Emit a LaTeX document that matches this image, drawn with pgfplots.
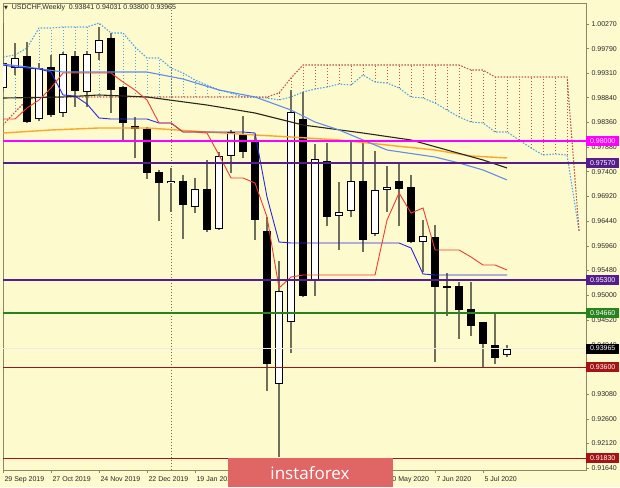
\documentclass[border=0pt]{standalone}
\usepackage{pgfplots}
\pgfplotsset{compat=1.18}
\usepackage{pgfplotstable}
\usepackage{fontspec}
\setmainfont{Liberation Sans}
\newfontfamily\dejavu{DejaVu Sans}
\newfontfamily\logofont{Open Sans}
\definecolor{bg}{RGB}{253,250,205}
\definecolor{frame}{RGB}{140,135,100}
\definecolor{wick}{RGB}{110,110,90}
\definecolor{tenkan}{RGB}{240,60,50}
\definecolor{kijun}{RGB}{40,40,230}
\definecolor{spanA}{RGB}{80,165,235}
\definecolor{spanB}{RGB}{190,85,75}
\definecolor{maBlue}{RGB}{100,140,235}
\definecolor{maBlack}{RGB}{40,40,30}
\definecolor{maOrange}{RGB}{255,165,40}
\definecolor{lvlMag}{RGB}{255,0,255}
\definecolor{lvlPur}{RGB}{85,30,140}
\definecolor{lvlGrn}{RGB}{40,130,30}
\definecolor{lvlRed}{RGB}{165,20,20}
\definecolor{curline}{RGB}{236,236,228}
\definecolor{logo}{RGB}{224,102,102}
\definecolor{txt}{RGB}{40,40,40}
\tikzset{lbl/.style={anchor=west, text=white, font=\fontsize{7}{8}\selectfont, inner xsep=2pt, inner ysep=0pt, minimum height=10pt, minimum width=33pt}}
\pgfplotsset{eb/.style={draw=none, mark=none, error bars/.cd, y dir=plus, y explicit, error mark=none}}

\pgfplotstableread{
k O H L C
2 0.99654 0.99926 0.98347 0.98361
4 0.99429 0.99668 0.98473 0.98496
6 0.99648 0.99746 0.98667 0.98969
9 0.99992 1.00089 0.98535 0.98988
10 0.99040 0.99066 0.98017 0.98341
11 0.98289 0.98458 0.97667 0.98225
12 0.98225 0.98275 0.97259 0.97381
13 0.97389 0.97434 0.96449 0.97176
15 0.97226 0.97337 0.96094 0.96754
17 0.97059 0.97628 0.96235 0.96268
20 0.98114 0.98483 0.97673 0.97778
21 0.97984 0.98114 0.96074 0.96463
22 0.96255 0.96527 0.93147 0.93665
25 0.98425 0.98955 0.94967 0.94992
27 0.97609 0.97953 0.96352 0.96521
30 0.97226 0.97984 0.95847 0.96074
33 0.97226 0.97564 0.96346 0.97061
34 0.97110 0.97327 0.96016 0.96035
36 0.96127 0.96366 0.93710 0.95167
37 0.95181 0.95439 0.94604 0.95151
38 0.95181 0.95264 0.94151 0.94714
39 0.94728 0.95264 0.94215 0.94410
40 0.94475 0.94487 0.93582 0.94054
41 0.94040 0.94650 0.93665 0.93782
}\bear

\pgfplotstableread{
k O H L C
0 0.99021 1.00289 0.98949 0.99518
1 0.99409 0.99895 0.99279 0.99615
3 0.98419 0.99512 0.98386 0.99421
5 0.98547 0.99732 0.98469 0.99687
7 0.98943 0.99755 0.98667 0.99687
8 0.99701 1.00218 0.99571 0.99959
14 0.97176 0.97473 0.96618 0.97226
16 0.96709 0.97273 0.96593 0.97059
18 0.96294 0.97789 0.96268 0.97712
19 0.97706 0.98211 0.97381 0.98166
23 0.93277 0.95666 0.91865 0.95089
24 0.94475 0.98988 0.93885 0.98566
26 0.95284 0.97933 0.94986 0.97648
28 0.96546 0.97207 0.95880 0.96612
29 0.96643 0.97997 0.96527 0.97226
31 0.96197 0.97809 0.96152 0.97040
32 0.97036 0.97512 0.96618 0.97094
35 0.96041 0.96463 0.95458 0.96158
42 0.93841 0.94031 0.93800 0.93965
}\bull

\pgfplotstableread{
k A B
0 0.99629 0.98308
1 0.99668 0.98560
2 0.99804 0.98794
3 1.00192 0.98852
4 1.00192 0.98852
5 1.00212 0.98852
6 1.00212 0.98852
7 1.00212 0.98852
8 1.00289 0.98852
9 1.00095 0.98852
10 1.00095 0.98852
11 0.99823 0.98852
12 0.99609 0.98852
13 0.99609 0.98852
14 0.99415 0.98852
15 0.99318 0.98852
16 0.99182 0.98852
17 0.99085 0.98852
18 0.98988 0.98852
19 0.98930 0.98852
20 0.98852 0.98852
21 0.98852 0.98852
22 0.98832 0.98852
23 0.98794 0.98930
24 0.98852 0.99221
25 0.98949 0.99473
26 0.99007 0.99473
27 0.99046 0.99473
28 0.99104 0.99473
29 0.99085 0.99473
30 0.99279 0.99473
31 0.99143 0.99473
32 0.99124 0.99473
33 0.99027 0.99473
34 0.98852 0.99473
35 0.98832 0.99473
36 0.98735 0.99473
37 0.98599 0.99473
38 0.98463 0.99473
39 0.98366 0.99376
40 0.98347 0.99376
41 0.98172 0.99240
42 0.98172 0.99240
43 0.98017 0.99240
44 0.97861 0.99240
45 0.97725 0.99240
46 0.97745 0.99240
47 0.97725 0.99240
48 0.96249 0.96249
}\cloud

\begin{document}
\begin{tikzpicture}
\useasboundingbox (0pt,0pt) rectangle (620pt,487pt);
\fill[bg] (0pt,0pt) rectangle (620pt,487pt);
\begin{axis}[
  at={(3pt,17pt)}, anchor=south west,
  width=583pt, height=467pt, scale only axis,
  xmin=0, xmax=48.58, ymin=0.91606, ymax=1.00678,
  clip mode=individual,
  axis line style={draw=frame, line width=0.8pt},
  xtick={0,4,8,12,16,20,24,28,32,36,40},
  xticklabels={29 Sep 2019,27 Oct 2019,24 Nov 2019,22 Dec 2019,19 Jan 2020,16 Feb 2020,15 Mar 2020,12 Apr 2020,10 May 2020,7 Jun 2020,5 Jul 2020},
  xtick pos=bottom, xtick align=outside, major tick length=3pt,
  xticklabel style={anchor=north west, xshift=-2pt, font=\fontsize{7}{8}\selectfont, text=txt},
  ytick={0.9164,0.9212,0.926,0.9308,0.9356,0.9404,0.9452,0.95,0.9548,0.9596,0.9644,0.9692,0.974,0.9788,0.9836,0.9884,0.9931,0.9979,1.0027},
  yticklabels={0.91640,0.92120,0.92600,0.93080,0.93560,0.94040,0.94520,0.95000,0.95480,0.95960,0.96440,0.96920,0.97400,0.97880,0.98360,0.98840,0.99310,0.99790,1.00270},
  ytick pos=right, yticklabel pos=right, ytick align=outside,
  yticklabel style={anchor=west, xshift=-1pt, font=\fontsize{7}{8}\selectfont, text=txt},
  tick style={draw=frame, line width=0.6pt},
]
% cloud hatches
\addplot[restrict x to domain=0:21, eb,
  error bar style={draw=spanA, line width=0.8pt, dash pattern=on 1.2pt off 1.8pt}]
  table[x=k, y expr={min(\thisrow{A},\thisrow{B})}, y error expr={abs(\thisrow{A}-\thisrow{B})}] \cloud;
\addplot[restrict x to domain=22:48, eb,
  error bar style={draw=spanB, line width=0.8pt, dash pattern=on 1.2pt off 1.8pt}]
  table[x=k, y expr={min(\thisrow{A},\thisrow{B})}, y error expr={abs(\thisrow{A}-\thisrow{B})}] \cloud;
% period separator
\addplot[draw=frame!80!black, line width=0.8pt, dash pattern=on 1pt off 2pt] coordinates {(14,0.91606) (14,1.00678)};
% spans
\addplot[spanA, line width=1.1pt, dash pattern=on 1.5pt off 1.5pt] table[x=k, y=A] \cloud;
\addplot[spanB, line width=1.1pt, dash pattern=on 1.5pt off 1.5pt] table[x=k, y=B] \cloud;
% wicks
\addplot[eb, error bar style={draw=wick, line width=1.2pt}]
  table[x=k, y=L, y error expr={\thisrow{H}-\thisrow{L}}] \bear;
\addplot[eb, error bar style={draw=wick, line width=1.2pt}]
  table[x=k, y=L, y error expr={\thisrow{H}-\thisrow{L}}] \bull;
% bodies
\addplot[eb, error bar style={draw=black, line width=8pt}]
  table[x=k, y=C, y error expr={\thisrow{O}-\thisrow{C}}] \bear;
\addplot[eb, error bar style={draw=black, line width=8pt}]
  table[x=k, y=O, y error expr={\thisrow{C}-\thisrow{O}}] \bull;
\addplot[eb, error bar style={draw=white, line width=6pt}]
  table[x=k, y expr={\thisrow{O}+0.00019}, y error expr={\thisrow{C}-\thisrow{O}-0.00038}] \bull;
% moving averages
\addplot[maOrange, line width=1.4pt] coordinates {(0,0.98152) (4,0.98211) (8,0.98250) (12,0.98250) (17,0.98172) (21,0.98114) (24,0.98075) (28,0.98017) (32,0.97919) (36,0.97822) (39,0.97706) (42,0.97667)};
\addplot[maBlack, line width=1.1pt] coordinates {(0,0.98832) (5,0.98852) (8,0.98891) (12,0.98852) (17,0.98696) (21,0.98541) (24,0.98366) (25,0.98308) (30,0.98152) (34,0.98017) (37,0.97822) (40,0.97628) (42,0.97473)};
\addplot[maBlue, line width=1.1pt] coordinates {(0,0.99493) (2,0.99435) (5,0.99337) (12,0.99337) (15,0.99201) (18,0.98988) (21,0.98852) (24,0.98599) (26,0.98366) (28,0.98211) (30,0.98017) (32,0.97822) (36,0.97686) (38,0.97570) (40,0.97434) (42,0.97240)};
% kijun
\addplot[kijun, line width=0.9pt] coordinates {(0,0.99473) (1,0.99435) (2,0.99415) (3,0.99396) (4,0.99337) (5,0.98891) (6,0.98871) (7,0.98716) (8,0.98444) (9,0.98424) (10,0.98424) (11,0.98424) (12,0.98424) (13,0.98347) (14,0.98347) (15,0.98172) (16,0.98172) (17,0.98172) (18,0.98172) (19,0.98172) (20,0.98172) (21,0.98152) (22,0.96909) (23,0.96035) (24,0.96016) (25,0.96016) (26,0.96016) (27,0.96016) (28,0.96016) (29,0.96016) (30,0.96016) (31,0.96016) (32,0.96016) (33,0.96016) (34,0.95919) (35,0.95414) (36,0.95394) (37,0.95394) (38,0.95394) (39,0.95394) (40,0.95394) (41,0.95394) (42,0.95394)};
% tenkan
\addplot[tenkan, line width=0.9pt] coordinates {(0,0.98424) (1,0.98424) (2,0.98638) (3,0.98794) (4,0.99027) (5,0.99318) (6,0.99318) (7,0.99318) (8,0.99318) (9,0.99318) (10,0.99143) (11,0.98988) (12,0.98794) (13,0.98347) (14,0.98347) (15,0.98172) (16,0.98172) (17,0.98152) (18,0.97725) (19,0.97278) (20,0.97278) (21,0.97181) (22,0.96521) (23,0.95142) (24,0.95355) (25,0.95394) (26,0.95394) (27,0.95394) (28,0.95394) (29,0.95394) (30,0.95394) (31,0.95394) (32,0.96462) (33,0.96987) (34,0.96598) (35,0.96696) (36,0.95880) (37,0.95880) (38,0.95880) (39,0.95744) (40,0.95588) (41,0.95588) (42,0.95491)};
% levels
\addplot[curline, line width=1pt] coordinates {(0,0.93965) (48.58,0.93965)};
\addplot[lvlMag, line width=1.6pt] coordinates {(0,0.98) (48.58,0.98)};
\addplot[lvlPur, line width=1.4pt] coordinates {(0,0.9757) (48.58,0.9757)};
\addplot[lvlPur, line width=1.4pt] coordinates {(0,0.953) (48.58,0.953)};
\addplot[lvlGrn, line width=1.6pt] coordinates {(0,0.9466) (48.58,0.9466)};
\addplot[lvlRed, line width=1.4pt] coordinates {(0,0.936) (48.58,0.936)};
\addplot[lvlRed, line width=1.4pt] coordinates {(0,0.9183) (48.58,0.9183)};
% labels
\node[lbl, fill=lvlMag] at (axis cs:48.58,0.98) {0.98000};
\node[lbl, fill=lvlPur] at (axis cs:48.58,0.9757) {0.97570};
\node[lbl, fill=lvlPur] at (axis cs:48.58,0.953) {0.95300};
\node[lbl, fill=lvlGrn] at (axis cs:48.58,0.9466) {0.94660};
\node[lbl, fill=black] at (axis cs:48.58,0.93965) {0.93965};
\node[lbl, fill=lvlRed] at (axis cs:48.58,0.936) {0.93600};
\node[lbl, fill=lvlRed] at (axis cs:48.58,0.9183) {0.91830};
\end{axis}
\node[anchor=west, inner sep=0pt, text=txt, font=\fontsize{7}{8}\selectfont] at (4pt,479pt) {{\dejavu\fontsize{5}{6}\selectfont ▼}\ \ USDCHF,Weekly\ \ 0.93841 0.94031 0.93800 0.93965};
\fill[logo] (228pt,0pt) rectangle (393pt,29pt);
\node[text=white, font=\logofont\fontsize{17}{20}\selectfont, inner sep=0pt] at (310pt,14pt) {instaforex};
\end{tikzpicture}
\end{document}
